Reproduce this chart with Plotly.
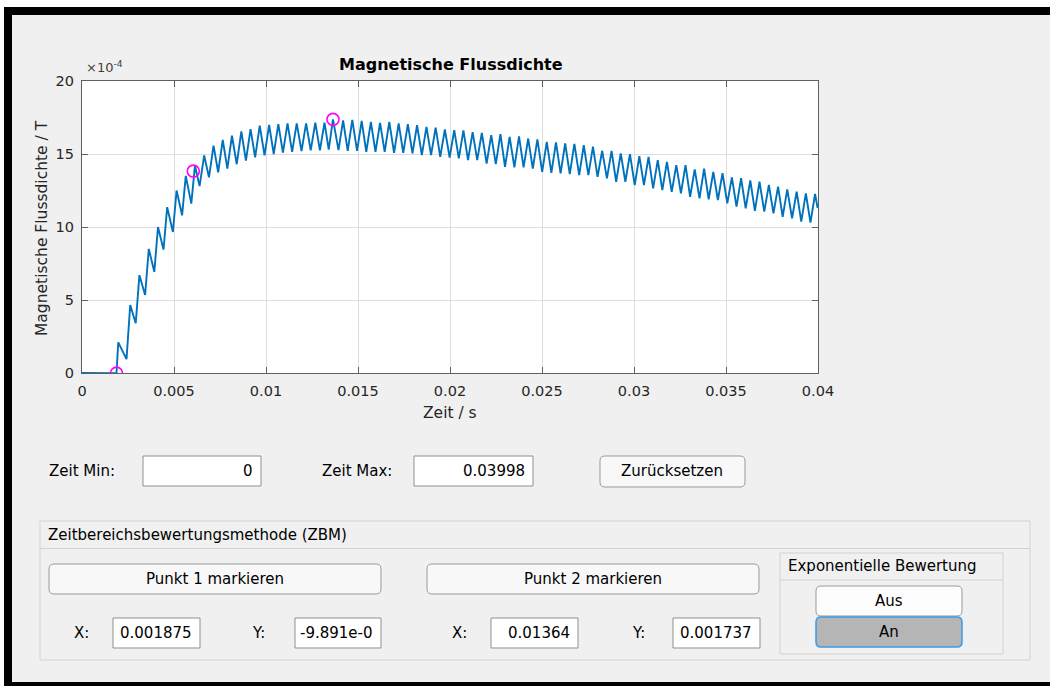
import plotly.graph_objects as go

W, H = 1050, 686

# ---------------- data (B in units of 1e-4 T) ----------------
t_start = [0.0, 0.001875, 0.00197]
b_start = [0.0, -0.009891, 2.1]

t_trough = [0.00242, 0.00292, 0.00343, 0.00393, 0.00443, 0.00494, 0.00544, 0.00594, 0.00639, 0.0069,
            0.0074, 0.0079, 0.00841, 0.00891, 0.00941, 0.00992, 0.01042, 0.01092, 0.01142, 0.01193,
            0.01243, 0.01293, 0.01341, 0.01394, 0.01444, 0.01495, 0.01545, 0.01595, 0.01645, 0.01696,
            0.01746, 0.01796, 0.01847, 0.01897, 0.01947, 0.01998, 0.02048, 0.02098, 0.02148, 0.02199,
            0.02249, 0.02299, 0.0235, 0.024, 0.0245, 0.02501, 0.02551, 0.02601, 0.02651, 0.02702,
            0.02752, 0.02802, 0.02853, 0.02903, 0.02953, 0.03004, 0.03054, 0.03104, 0.03154, 0.03205,
            0.03255, 0.03305, 0.03356, 0.03406, 0.03456, 0.03507, 0.03557, 0.03607, 0.03657, 0.03708,
            0.03758, 0.03808, 0.03859, 0.03909, 0.03959]
b_trough = [0.95, 3.41, 5.34, 6.93, 8.45, 9.66, 10.8, 11.6, 12.8, 13.4,
            13.75, 14.0, 14.3, 14.55, 14.77, 14.9, 15.0, 15.1, 15.15, 15.2,
            15.25, 15.25, 15.3, 15.27, 15.22, 15.22, 15.15, 15.15, 15.15, 15.08,
            15.08, 15.04, 14.92, 14.92, 14.8, 14.76, 14.7, 14.58, 14.58, 14.35,
            14.3, 14.12, 14.08, 14.08, 14.0, 13.78, 13.7, 13.67, 13.62, 13.55,
            13.55, 13.44, 13.33, 13.1, 13.1, 12.87, 12.87, 12.64, 12.53, 12.41,
            12.3, 12.07, 11.96, 11.9, 11.85, 11.62, 11.4, 11.28, 11.1, 11.05,
            10.94, 10.7, 10.6, 10.37, 10.3]
t_peak = [0.00262, 0.00312, 0.00363, 0.00413, 0.00463, 0.00514, 0.00564, 0.00614, 0.00664, 0.00715,
          0.00765, 0.00815, 0.00866, 0.00916, 0.00966, 0.01017, 0.01067, 0.01117, 0.01167, 0.01218,
          0.01268, 0.01318, 0.01364, 0.01419, 0.01469, 0.0152, 0.0157, 0.0162, 0.0167, 0.01721,
          0.01771, 0.01821, 0.01872, 0.01922, 0.01972, 0.02023, 0.02073, 0.02123, 0.02173, 0.02224,
          0.02274, 0.02324, 0.02375, 0.02425, 0.02475, 0.02526, 0.02576, 0.02626, 0.02676, 0.02727,
          0.02777, 0.02827, 0.02878, 0.02928, 0.02978, 0.03029, 0.03079, 0.03129, 0.03179, 0.0323,
          0.0328, 0.0333, 0.03381, 0.03431, 0.03481, 0.03532, 0.03582, 0.03632, 0.03682, 0.03733,
          0.03783, 0.03833, 0.03884, 0.03934, 0.03984]
b_peak = [4.66, 6.7, 8.5, 10.0, 11.36, 12.5, 13.5, 14.2, 14.9, 15.57,
          15.96, 16.25, 16.55, 16.7, 16.94, 17.0, 17.05, 17.1, 17.1, 17.1,
          17.15, 17.15, 17.37, 17.3, 17.33, 17.27, 17.2, 17.13, 17.2, 17.1,
          17.05, 16.97, 16.86, 16.8, 16.68, 16.63, 16.62, 16.5, 16.45, 16.29,
          16.36, 16.17, 16.2, 16.06, 16.0, 15.83, 15.8, 15.72, 15.7, 15.6,
          15.5, 15.22, 15.22, 15.04, 14.99, 14.85, 14.8, 14.58, 14.46, 14.24,
          14.24, 13.95, 14.0, 13.78, 13.68, 13.4, 13.34, 13.2, 13.1, 12.88,
          12.76, 12.58, 12.42, 12.3, 12.26]
t_end = [0.03998]
b_end = [11.3]

t_marks = [0.001875, 0.00605, 0.01364]
b_marks = [-0.009891, 13.83, 17.37]

x_ticks = [0, 0.005, 0.01, 0.015, 0.02, 0.025, 0.03, 0.035, 0.04]
x_ticktext = ["0", "0.005", "0.01", "0.015", "0.02", "0.025", "0.03", "0.035", "0.04"]
y_ticks = [0, 5, 10, 15, 20]
y_ticktext = ["0", "5", "10", "15", "20"]

# build polyline
t_line, b_line = list(t_start), list(b_start)
for tt, bt, tp, bp in zip(t_trough, b_trough, t_peak, b_peak):
    t_line += [tt, tp]
    b_line += [bt, bp]
t_line += t_end
b_line += b_end

# ---------------- helpers (pixel -> paper) ----------------
def px(x):
    return x / W

def py(y):
    return 1 - y / H

FONT = "DejaVu Sans"
BG = "#f0f0f0"

shapes = []
annos = []

def rect(x0, y0, x1, y1, fill, line="rgba(0,0,0,0)", lw=1):
    shapes.append(dict(type="rect", xref="paper", yref="paper",
                       x0=px(x0), x1=px(x1), y0=py(y1), y1=py(y0),
                       fillcolor=fill, line=dict(color=line, width=lw), layer="above"))

def rrect(x0, y0, x1, y1, fill, line, lw=1, r=5):
    pts = [
        ("M", x0 + r, y0), ("L", x1 - r, y0), ("Q", x1, y0, x1, y0 + r),
        ("L", x1, y1 - r), ("Q", x1, y1, x1 - r, y1), ("L", x0 + r, y1),
        ("Q", x0, y1, x0, y1 - r), ("L", x0, y0 + r), ("Q", x0, y0, x0 + r, y0),
    ]
    s = ""
    for p in pts:
        cmd = p[0]
        coords = p[1:]
        s += cmd + " " + " ".join(
            f"{px(coords[i]):.6f},{py(coords[i + 1]):.6f}" for i in range(0, len(coords), 2)) + " "
    s += "Z"
    shapes.append(dict(type="path", xref="paper", yref="paper", path=s,
                       fillcolor=fill, line=dict(color=line, width=lw), layer="above"))

def hline(x0, x1, y, color, lw=1):
    shapes.append(dict(type="line", xref="paper", yref="paper",
                       x0=px(x0), x1=px(x1), y0=py(y), y1=py(y),
                       line=dict(color=color, width=lw), layer="above"))

def text(x, y, s, anchor="left", size=15, color="#000000", bold=False):
    annos.append(dict(xref="paper", yref="paper", x=px(x), y=py(y), text=(f"<b>{s}</b>" if bold else s),
                      showarrow=False, xanchor=anchor, yanchor="middle",
                      font=dict(family=FONT, size=size, color=color)))

# window frame
rect(0, 0, W, 7, "#ffffff")
rect(0, 0, 4, H, "#ffffff")
rect(4, 7, W, 15, "#000000")
rect(4, 7, 12, H, "#000000")
rect(4, 682, W, H, "#000000")

# top controls
text(47, 471, "Zeit Min:")
rect(143, 456, 261, 486, "#ffffff", "#8f8f8f")
text(255, 471, "0", anchor="right")
text(320, 471, "Zeit Max:")
rect(414, 456, 533, 486, "#ffffff", "#8f8f8f")
text(527, 471, "0.03998", anchor="right")
rrect(600, 456, 745, 487, "#f8f8f8", "#9a9a9a", r=5)
text(672.5, 471, "Zurücksetzen", anchor="center")

# ZBM panel
rect(40, 521, 1030, 660, "rgba(0,0,0,0)", "#d2d2d2")
hline(40, 1030, 548.5, "#d2d2d2")
text(46, 535, "Zeitbereichsbewertungsmethode (ZBM)")
rrect(49, 564, 381, 594, "#f8f8f8", "#9a9a9a", r=5)
text(215, 579, "Punkt 1 markieren", anchor="center")
rrect(427, 564, 759, 594, "#f8f8f8", "#9a9a9a", r=5)
text(593, 579, "Punkt 2 markieren", anchor="center")

text(72, 633, "X:")
rect(113, 618, 200, 648, "#ffffff", "#8f8f8f")
text(194, 633, "0.001875", anchor="right")
text(250, 633, "Y:")
rect(295, 618, 381, 648, "#ffffff", "#8f8f8f")
text(298, 633, "-9.891e-0", anchor="left")

text(450, 633, "X:")
rect(491, 618, 578, 648, "#ffffff", "#8f8f8f")
text(572, 633, "0.01364", anchor="right")
text(630, 633, "Y:")
rect(673, 618, 760, 648, "#ffffff", "#8f8f8f")
text(754, 633, "0.001737", anchor="right")

# Exponentielle Bewertung sub panel
rect(780, 553, 1003, 654, "rgba(0,0,0,0)", "#d2d2d2")
hline(780, 1003, 580, "#d2d2d2")
text(786, 566, "Exponentielle Bewertung")
rrect(816, 586, 962, 616, "#fdfdfd", "#9a9a9a", r=5)
text(889, 601, "Aus", anchor="center")
rrect(816, 617, 962, 647, "#b5b5b5", "#3d9be6", lw=1.5, r=5)
text(889, 632, "An", anchor="center")

# chart texts
text(451, 64, "Magnetische Flussdichte", anchor="center", size=16, bold=True)
text(84, 67, "×10<sup>-4</sup>", anchor="left", size=13, color="#404040")
text(450, 413, "Zeit / s", anchor="center", size=15.5, color="#262626")
annos.append(dict(xref="paper", yref="paper", x=px(42), y=py(228), text="Magnetische Flussdichte / T",
                  showarrow=False, textangle=-90, xanchor="center", yanchor="middle",
                  font=dict(family=FONT, size=15.5, color="#262626")))

fig = go.Figure()
fig.add_trace(go.Scatter(x=t_line, y=b_line, mode="lines",
                         line=dict(color="#0072BD", width=1.9), hoverinfo="skip"))
fig.add_trace(go.Scatter(x=t_marks, y=b_marks, mode="markers",
                         marker=dict(symbol="circle-open", size=12, color="#ff00ff",
                                     line=dict(width=1.6, color="#ff00ff")), hoverinfo="skip"))

AX = "#5f5f5f"
fig.update_layout(
    width=W, height=H, margin=dict(l=0, r=0, t=0, b=0),
    paper_bgcolor=BG, plot_bgcolor="#ffffff", showlegend=False,
    xaxis=dict(domain=[82 / W, 818 / W], range=[0, 0.04], tickvals=x_ticks, ticktext=x_ticktext,
               showgrid=True, gridcolor="#dedede", gridwidth=1, zeroline=False,
               showline=True, linecolor=AX, linewidth=1.3, mirror="ticks",
               ticks="inside", ticklen=6, tickcolor=AX, tickwidth=1.3, ticklabelstandoff=4,
               tickfont=dict(family=FONT, size=14.5, color="#262626"), automargin=False),
    yaxis=dict(domain=[1 - 373 / H, 1 - 81 / H], range=[0, 20], tickvals=y_ticks, ticktext=y_ticktext,
               showgrid=True, gridcolor="#dedede", gridwidth=1, zeroline=False,
               showline=True, linecolor=AX, linewidth=1.3, mirror="ticks",
               ticks="inside", ticklen=6, tickcolor=AX, tickwidth=1.3, ticklabelstandoff=4,
               tickfont=dict(family=FONT, size=14.5, color="#262626"), automargin=False),
    shapes=shapes, annotations=annos,
)

fig.write_html("out.html", config={"displayModeBar": False},
               post_script="document.body.style.margin='0';document.body.style.overflow='hidden';")
